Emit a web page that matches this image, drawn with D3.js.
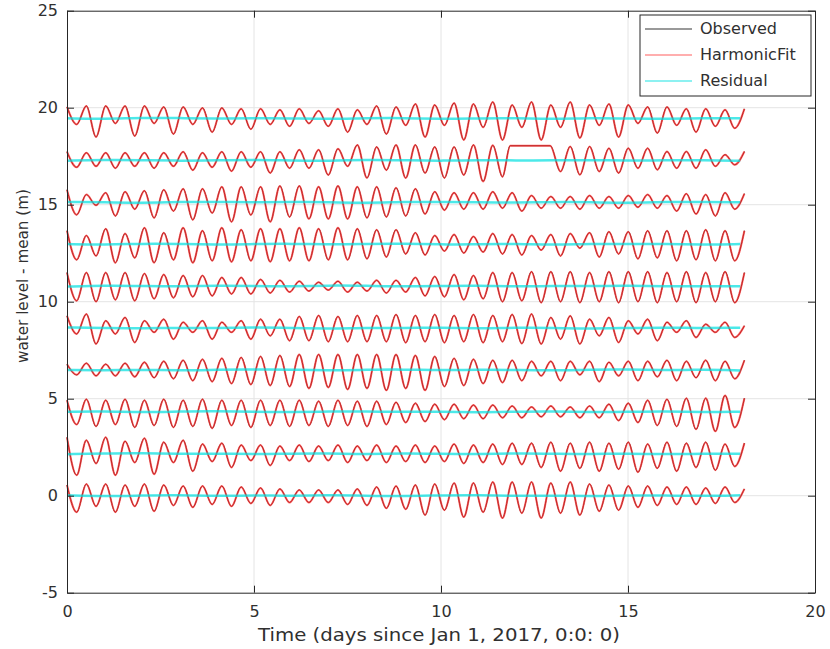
<!DOCTYPE html>
<meta http-equiv="content-type" content="text/html; charset=utf-8">
<style>
body { margin:0; background:#fff; }
text { font-family:"DejaVu Sans", Verdana, sans-serif; fill:#303030; }
.grid line { stroke:#e4e4e4; stroke-width:1; }
.axis path, .axis line { stroke:#262626; }
.obs { fill:none; stroke:#000; stroke-width:0.9; }
.fit { fill:none; stroke:#ff2a2a; stroke-opacity:0.72; stroke-width:2; }
.res { fill:none; stroke:#00e0e0; stroke-opacity:0.7; stroke-width:2.5; }
</style>
<body>
<div id="chart"></div>
<script src="https://d3js.org/d3.v7.min.js"></script>
<script>
var xTicks = [0, 5, 10, 15, 20];
var yTicks = [-5, 0, 5, 10, 15, 20, 25];
var seriesNames = ["Observed", "HarmonicFit", "Residual"];

// station offsets (m), bottom to top
var offsets = [0, 2.16, 4.32, 6.48, 8.64, 10.80, 12.96, 15.12, 17.28, 19.44];

// semidiurnal period in days: crest j at j*tidePeriod, trough j half a period later
var tidePeriod = 0.5175;

// crest heights and trough depths (m about station mean)
var hi0 = [0.55,0.6,0.6,0.55,0.6,0.55,0.5,0.5,0.5,0.45,0.4,0.35, 0.3,0.3,0.3,0.35,0.45,0.5,0.55,0.6,0.65,0.65,0.7,0.7, 0.7,0.65,0.7,0.6,0.55,0.5,0.5,0.45,0.45,0.4,0.45,0.35];
var lo0 = [-0.85,-0.55,-0.85,-0.55,-0.8,-0.5,-0.6,-0.45,-0.55,-0.4,-0.5,-0.35, -0.35,-0.35,-0.45,-0.5,-0.65,-0.7,-1.0,-0.75,-1.1,-0.85,-1.15,-0.9, -1.15,-0.9,-1.0,-0.8,-0.75,-0.6,-0.5,-0.45,-0.45,-0.4,-0.35];
var hi1 = [0.85,0.7,0.85,0.65,0.8,0.6,0.7,0.5,0.55,0.45,0.45,0.4, 0.45,0.4,0.45,0.4,0.45,0.4,0.45,0.4,0.5,0.45,0.5,0.55, 0.55,0.6,0.55,0.6,0.55,0.6,0.5,0.6,0.55,0.6,0.5,0.55];
var lo1 = [-1.1,-0.5,-1.1,-0.45,-1.05,-0.45,-0.9,-0.4,-0.7,-0.35,-0.6,-0.35, -0.4,-0.35,-0.45,-0.35,-0.45,-0.4,-0.45,-0.4,-0.5,-0.45,-0.55,-0.55, -0.7,-0.9,-0.75,-0.9,-0.8,-0.95,-0.75,-0.9,-0.7,-0.85,-0.65];
var hi2 = [0.6,0.65,0.6,0.65,0.6,0.65,0.6,0.65,0.6,0.6,0.6,0.6, 0.6,0.55,0.6,0.55,0.55,0.5,0.45,0.4,0.4,0.35,0.35,0.3, 0.25,0.3,0.25,0.3,0.4,0.45,0.6,0.65,0.7,0.7,0.85,0.7];
var lo2 = [-0.65,-0.75,-0.65,-0.8,-0.7,-0.8,-0.75,-0.85,-0.7,-0.8,-0.7,-0.75, -0.7,-0.75,-0.7,-0.75,-0.65,-0.55,-0.5,-0.4,-0.35,-0.35,-0.3,-0.3, -0.25,-0.25,-0.3,-0.3,-0.45,-0.55,-0.7,-0.75,-0.9,-1.0,-0.8];
var hi3 = [0.3,0.35,0.3,0.35,0.4,0.45,0.5,0.55,0.6,0.65,0.7,0.75, 0.8,0.8,0.8,0.8,0.8,0.8,0.75,0.7,0.6,0.55,0.5,0.5, 0.45,0.45,0.45,0.45,0.4,0.45,0.45,0.5,0.45,0.5,0.45,0.5];
var lo3 = [-0.25,-0.3,-0.3,-0.35,-0.4,-0.45,-0.55,-0.6,-0.7,-0.75,-0.8,-0.85, -0.95,-0.9,-1.0,-0.95,-1.05,-0.95,-1.05,-0.85,-0.8,-0.7,-0.65,-0.55, -0.3,-0.55,-0.25,-0.6,-0.3,-0.55,-0.35,-0.55,-0.4,-0.55,-0.45];
var hi4 = [0.63,0.72,0.38,0.55,0.38,0.46,0.3,0.38,0.3,0.38,0.46,0.46, 0.6,0.65,0.6,0.65,0.65,0.7,0.65,0.7,0.65,0.7,0.65,0.7, 0.72,0.55,0.63,0.46,0.55,0.38,0.46,0.3,0.38,0.2,0.3,0.12];
var lo4 = [-0.3,-0.82,-0.3,-0.74,-0.22,-0.57,-0.22,-0.57,-0.22,-0.57,-0.4,-0.65, -0.65,-0.7,-0.7,-0.7,-0.7,-0.75,-0.7,-0.75,-0.7,-0.75,-0.7,-0.8, -0.82,-0.57,-0.82,-0.4,-0.74,-0.3,-0.65,-0.22,-0.48,-0.22,-0.48];
var hi5 = [0.7,0.7,0.7,0.7,0.65,0.6,0.55,0.55,0.45,0.45,0.35,0.3, 0.25,0.2,0.25,0.2,0.3,0.3,0.45,0.5,0.6,0.55,0.7,0.7, 0.75,0.75,0.75,0.7,0.75,0.75,0.75,0.7,0.75,0.7,0.75,0.7];
var lo5 = [-0.75,-0.8,-0.7,-0.75,-0.65,-0.6,-0.55,-0.5,-0.4,-0.4,-0.35,-0.3, -0.25,-0.2,-0.3,-0.25,-0.35,-0.3,-0.5,-0.55,-0.7,-0.65,-0.8,-0.75, -0.85,-0.8,-0.85,-0.8,-0.85,-0.8,-0.85,-0.8,-0.85,-0.8,-0.85];
var hi6 = [0.7,0.45,0.8,0.55,0.85,0.6,0.85,0.7,0.85,0.75,0.8,0.8, 0.85,0.8,0.85,0.8,0.75,0.75,0.6,0.45,0.5,0.4,0.55,0.5, 0.45,0.5,0.55,0.6,0.65,0.65,0.7,0.7,0.7,0.75,0.7,0.7];
var lo6 = [-0.8,-0.6,-0.95,-0.7,-0.95,-0.8,-0.95,-0.85,-0.9,-0.85,-0.9,-0.85, -0.85,-0.8,-0.8,-0.75,-0.65,-0.5,-0.55,-0.35,-0.45,-0.4,-0.5,-0.55, -0.3,-0.6,-0.2,-0.65,-0.5,-0.75,-0.7,-0.85,-0.8,-0.85,-0.85];
var hi7 = [0.65,0.4,0.5,0.55,0.6,0.65,0.7,0.7,0.8,0.8,0.8,0.85, 0.85,0.8,0.85,0.8,0.8,0.75,0.7,0.55,0.5,0.5,0.55,0.5, 0.35,0.3,0.3,0.35,0.3,0.35,0.4,0.35,0.45,0.4,0.5,0.45];
var lo7 = [-0.64,-0.15,-0.7,-0.35,-0.8,-0.45,-0.9,-0.55,-1.0,-0.65,-1.0,-0.75, -0.85,-0.85,-0.85,-0.8,-0.75,-0.7,-0.6,-0.4,-0.35,-0.35,-0.3,-0.45, -0.3,-0.3,-0.35,-0.3,-0.3,-0.25,-0.3,-0.45,-0.6,-0.7,-0.35];
var hi8 = [0.45,0.4,0.4,0.4,0.4,0.4,0.45,0.4,0.45,0.45,0.45,0.45, 0.55,0.55,0.6,0.8,0.7,0.8,0.8,0.7,0.7,0.8,0.78,null, null,null,0.72,0.72,0.63,0.63,0.63,0.46,0.46,0.55,0.3,0.46];
var lo8 = [-0.35,-0.3,-0.4,-0.3,-0.4,-0.3,-0.5,-0.35,-0.55,-0.35,-0.65,-0.4, -0.4,-0.75,-0.3,-0.9,-0.5,-0.9,-0.65,-0.9,-0.75,-1.08,-0.84,null, null,-0.57,-0.74,-0.57,-0.65,-0.4,-0.48,-0.4,-0.4,-0.3,-0.22];
var hi9 = [0.6,0.65,0.65,0.65,0.65,0.6,0.6,0.55,0.55,0.5,0.5,0.45, 0.5,0.4,0.5,0.45,0.65,0.6,0.75,0.7,0.8,0.75,0.85,0.7, 0.85,0.7,0.85,0.7,0.75,0.7,0.6,0.6,0.5,0.5,0.45,0.5];
var lo9 = [-0.3,-0.95,-0.25,-0.9,-0.25,-0.8,-0.3,-0.7,-0.3,-0.55,-0.3,-0.4, -0.25,-0.4,-0.7,-0.3,-0.8,-0.35,-0.95,-0.35,-1.1,-0.45,-1.1,-0.45, -1.1,-0.45,-1.0,-0.35,-0.95,-0.25,-0.75,-0.35,-0.7,-0.4,-0.5];

// flat stretch in station 8 (days, m)
var gapStation = 8, gapStart = 11.85, gapEnd = 12.92, gapLevel = 0.76;

// residuals, one value per day (m)
var res0 = [0.02,-0.03,0.01,0.03,-0.02,0.02,-0.01,0.03,0,-0.03,0.02,0.04,-0.02,0.01,-0.03,0.02,0.01,-0.02,0.02];
var res1 = [-0.02,0.02,0.04,-0.01,0.02,-0.03,0.01,0.02,-0.02,0.03,0,-0.02,0.03,0.01,-0.02,0.02,-0.03,0.01,0];
var res2 = [0.01,0.03,-0.02,0.02,0.04,0,-0.02,0.02,0.03,-0.01,0.02,-0.03,0.01,0.03,-0.02,0,0.03,-0.02,0.01];
var res3 = [0,-0.02,0.02,-0.03,0.01,0.03,0.02,-0.02,0.01,0.03,-0.02,0.02,0,-0.03,0.02,0.03,-0.01,0.02,-0.02];
var res4 = [0.03,0.01,-0.02,0.02,-0.01,0.04,0.01,-0.03,0.02,0,0.03,-0.02,0.02,0.01,-0.03,0.01,0.03,0,0.02];
var res5 = [-0.02,0.03,0.01,-0.02,0.03,0.01,-0.01,0.04,0.02,-0.02,0.01,0.03,-0.02,0.02,0,0.03,-0.02,0.01,-0.01];
var res6 = [0.01,-0.02,0.03,0.02,-0.02,0.01,0.03,-0.01,0.02,0.04,-0.02,0.01,0.02,-0.03,0.02,0.01,0.03,-0.02,0.01];
var res7 = [0.02,0.01,-0.03,0.02,0.03,-0.01,0.02,0.01,-0.03,0.02,0.03,0,-0.02,0.02,0.01,-0.03,0.02,0.03,0];
var res8 = [-0.01,0.03,0.02,-0.02,0.01,0.04,0,-0.02,0.03,0.01,-0.02,0.02,0,0,0.03,-0.02,0.02,0.01,-0.02];
var res9 = [0.01,-0.02,0.04,0.03,-0.01,0.02,0.01,-0.03,0.02,0.03,-0.02,0.01,0.02,-0.02,0.03,0.01,-0.02,0.02,0.01];

var highs = [hi0, hi1, hi2, hi3, hi4, hi5, hi6, hi7, hi8, hi9];
var lows = [lo0, lo1, lo2, lo3, lo4, lo5, lo6, lo7, lo8, lo9];
var resids = [res0, res1, res2, res3, res4, res5, res6, res7, res8, res9];

var width = 830, height = 649;
var mLeft = 67, mRight = 815, mTop = 10.7, mBottom = 592.7;

var svg = d3.select("#chart").append("svg")
    .attr("width", width)
    .attr("height", height);

var x = d3.scaleLinear().domain([0, 20]).range([mLeft, mRight]);
var y = d3.scaleLinear().domain([-5, 25]).range([mBottom, mTop]);

// plain hyphen for negatives, like the original
var plainFmt = function(d) { return String(d); };

// grid
var grid = svg.append("g").attr("class", "grid");
grid.selectAll(".gx")
  .data(xTicks.slice(1, -1))
  .enter().append("line")
    .attr("x1", function(d) { return x(d); })
    .attr("x2", function(d) { return x(d); })
    .attr("y1", mTop)
    .attr("y2", mBottom);
grid.selectAll(".gy")
  .data(yTicks.slice(1, -1))
  .enter().append("line")
    .attr("y1", function(d) { return y(d); })
    .attr("y2", function(d) { return y(d); })
    .attr("x1", mLeft)
    .attr("x2", mRight);

function tidePoints(k) {
  var hi = highs[k], lo = lows[k], pts = [];
  for (var j = 0; j < hi.length; j++) {
    if (hi[j] != null) pts.push([j * tidePeriod, hi[j]]);
    if (j < lo.length && lo[j] != null) pts.push([(j + 0.5) * tidePeriod, lo[j]]);
  }
  if (k === gapStation) {
    pts.push([gapStart, gapLevel], [gapEnd, gapLevel]);
    pts.sort(function(a, b) { return a[0] - b[0]; });
  }
  return pts;
}

var plotArea = svg.append("g");

offsets.forEach(function(off, k) {
  var line = d3.line()
      .x(function(d) { return x(d[0]); })
      .y(function(d) { return y(d[1] + off); })
      .curve(d3.curveMonotoneX);
  var pts = tidePoints(k);
  plotArea.append("path").attr("class", "obs").attr("d", line(pts));
  plotArea.append("path").attr("class", "fit").attr("d", line(pts));
  var rline = d3.line()
      .x(function(d, i) { return x(i); })
      .y(function(d) { return y(d + off); })
      .curve(d3.curveBasis);
  plotArea.append("path").attr("class", "res").attr("d", rline(resids[k]));
});

// axes, MATLAB style: inward ticks, box on
svg.append("g")
    .attr("class", "axis")
    .attr("transform", "translate(0," + mBottom + ")")
    .call(d3.axisBottom(x).tickValues(xTicks).tickFormat(plainFmt).tickSizeInner(-7).tickSizeOuter(0).tickPadding(13))
    .call(function(g) { g.selectAll("text").attr("font-size", 16).style("font-family", "DejaVu Sans"); });
svg.append("g")
    .attr("class", "axis")
    .attr("transform", "translate(" + mLeft + ",0)")
    .call(d3.axisLeft(y).tickValues(yTicks).tickFormat(plainFmt).tickSizeInner(-7).tickSizeOuter(0).tickPadding(9))
    .call(function(g) { g.selectAll("text").attr("font-size", 16).style("font-family", "DejaVu Sans"); });
svg.append("g")
    .attr("class", "axis")
    .attr("transform", "translate(0," + mTop + ")")
    .call(d3.axisTop(x).tickValues(xTicks).tickSizeInner(-7).tickSizeOuter(0).tickFormat(""));
svg.append("g")
    .attr("class", "axis")
    .attr("transform", "translate(" + mRight + ",0)")
    .call(d3.axisRight(y).tickValues(yTicks).tickSizeInner(-7).tickSizeOuter(0).tickFormat(""));

svg.append("text")
    .attr("x", 439)
    .attr("y", 641)
    .attr("text-anchor", "middle")
    .attr("font-size", 17)
    .attr("textLength", 362)
    .attr("lengthAdjust", "spacingAndGlyphs")
    .text("Time (days since Jan 1, 2017, 0:0: 0)");

svg.append("text")
    .attr("transform", "translate(23,276) rotate(-90)")
    .attr("text-anchor", "middle")
    .attr("dominant-baseline", "middle")
    .attr("font-size", 16)
    .attr("textLength", 174)
    .attr("lengthAdjust", "spacingAndGlyphs")
    .text("water level - mean (m)");

// legend
var legend = svg.append("g");
legend.append("rect")
    .attr("x", 640).attr("y", 15)
    .attr("width", 171).attr("height", 81)
    .attr("fill", "#fff")
    .attr("stroke", "#262626");
var legRows = legend.selectAll(".row")
  .data(seriesNames)
  .enter().append("g")
    .attr("transform", function(d, i) { return "translate(0," + (29 + i * 26) + ")"; });
legRows.append("line")
    .attr("x1", 645).attr("x2", 692)
    .attr("class", function(d, i) { return ["obs", "fit", "res"][i]; })
    .style("stroke-width", function(d, i) { return [1, 1.5, 1.5][i]; })
    .style("stroke-opacity", function(d, i) { return [0.8, 0.5, 0.6][i]; });
legRows.append("text")
    .attr("x", 700)
    .attr("dominant-baseline", "middle")
    .attr("font-size", 16)
    .text(function(d) { return d; });
</script>
</body>
</html>
